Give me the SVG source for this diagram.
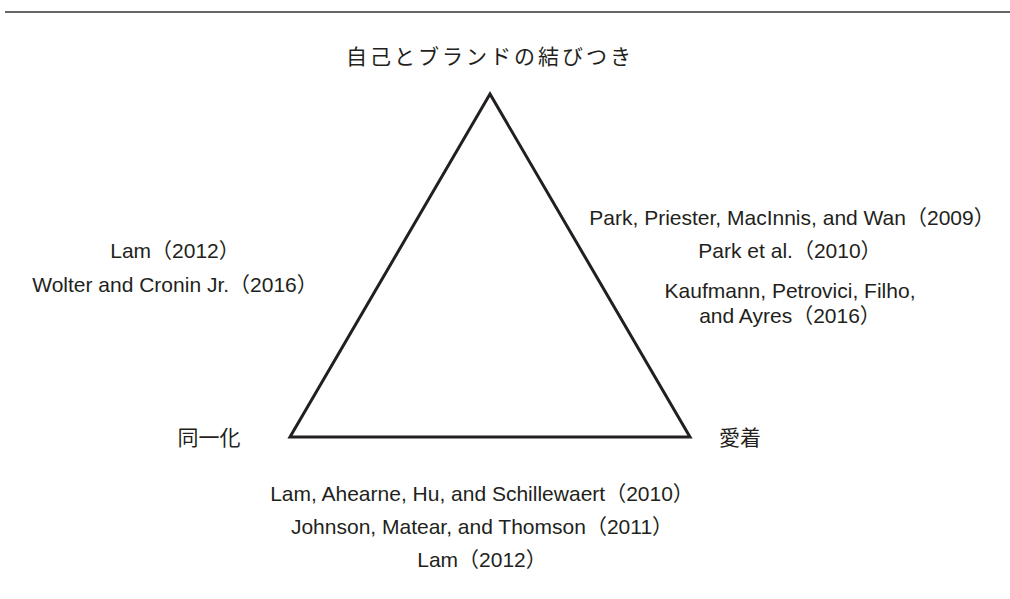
<svg xmlns="http://www.w3.org/2000/svg" width="1010" height="599" viewBox="0 0 1010 599">
<style>
.t{font-family:"Liberation Sans","Noto Sans CJK JP",sans-serif;font-size:21px;fill:#231f20;text-anchor:middle}
.j{font-family:"Noto Sans CJK JP",sans-serif;font-size:21px;fill:#231f20;text-anchor:middle}
</style>
<rect width="1010" height="599" fill="#fff"/>
<line x1="5" y1="12" x2="1010" y2="12" stroke="#333" stroke-width="1.5"/>
<g id="connectors">
<polygon points="490,94 290,437 690,437" fill="none" stroke="#231f20" stroke-width="3" stroke-linejoin="miter"/>
</g>
<g id="node-top"><text class="j" x="490" y="64" letter-spacing="3">自己とブランドの結びつき</text></g>
<g id="node-left"><text class="j" x="209" y="445" font-size="22">同一化</text></g>
<g id="node-right"><text class="j" x="740" y="445" font-size="22">愛着</text></g>
<g id="refs-right">
<text class="t" x="792" y="225">Park, Priester, MacInnis, and Wan（2009）</text>
<text class="t" x="790" y="258">Park et al.（2010）</text>
<text class="t" x="790" y="298">Kaufmann, Petrovici, Filho,</text>
<text class="t" x="790" y="323">and Ayres（2016）</text>
</g>
<g id="refs-left">
<text class="t" x="175" y="258">Lam（2012）</text>
<text class="t" x="175" y="292">Wolter and Cronin Jr.（2016）</text>
</g>
<g id="refs-bottom">
<text class="t" x="482" y="501">Lam, Ahearne, Hu, and Schillewaert（2010）</text>
<text class="t" x="482" y="534">Johnson, Matear, and Thomson（2011）</text>
<text class="t" x="482" y="567">Lam（2012）</text>
</g>
</svg>
